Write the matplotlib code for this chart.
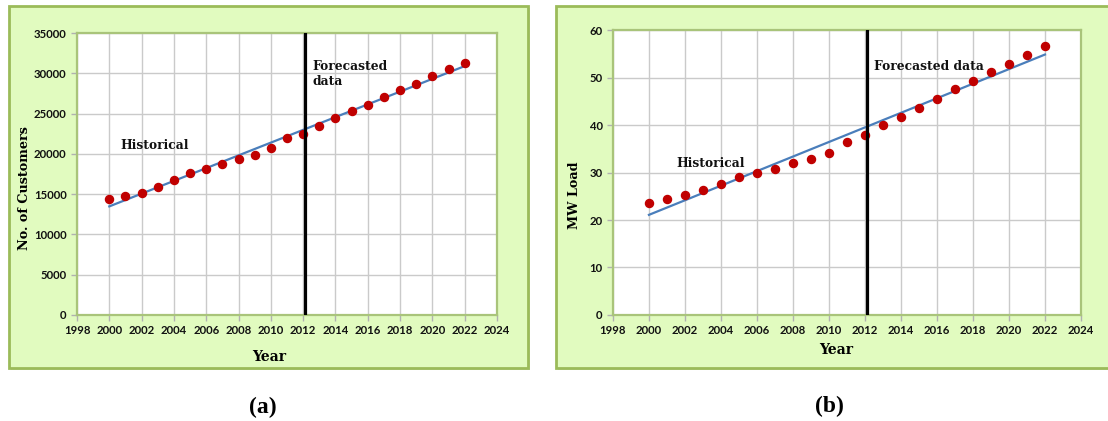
import numpy as np
import matplotlib.pyplot as plt
from matplotlib.patches import Rectangle

years = np.arange(2000, 2023)
customers = [14400, 14800, 15200, 15900, 16700, 17600, 18100, 18700, 19400,
             19900, 20700, 22000, 22500, 23500, 24400, 25300, 26100, 27000,
             27900, 28700, 29700, 30500, 31300]
mw_load = [23.6, 24.5, 25.2, 26.3, 27.6, 29.0, 29.8, 30.8, 32.0, 32.9, 34.2,
           36.4, 37.9, 40.0, 41.7, 43.6, 45.5, 47.5, 49.2, 51.1, 52.9, 54.8, 56.6]
split_year = 2012.1
xticks = np.arange(1998, 2025, 2)

box_fill = '#e1fbbf'
box_edge = '#9bbb59'
dot_red = '#c00000'
trend_blue = '#4a7ebb'
serif = 'DejaVu Serif'
tick_font = 'Lato'

fig = plt.figure(figsize=(11.08, 4.21), dpi=100)

# green chart boxes behind the axes
for x0, w in [(0.0081, 0.4684), (0.5018, 0.52)]:
    fig.patches.append(Rectangle((x0 + 0.002, 0.121), w, 0.86, transform=fig.transFigure,
                                 facecolor='#d8d8d8', edgecolor='none', zorder=-3))
    fig.patches.append(Rectangle((x0, 0.1259), w, 0.8598, transform=fig.transFigure,
                                 facecolor=box_fill, edgecolor=box_edge, lw=2, zorder=-2))

ax1 = fig.add_axes([0.0695, 0.2518, 0.3791, 0.6698])
ax2 = fig.add_axes([0.5532, 0.2518, 0.4224, 0.6769])


def style_axes(ax, ymax, ystep):
    ax.set_facecolor('white')
    ax.set_xlim(1998, 2024)
    ax.set_ylim(0, ymax)
    ax.set_xticks(xticks)
    ax.set_yticks(np.arange(0, ymax + 1, ystep))
    ax.grid(True, color='#cacaca', lw=1.0)
    ax.set_axisbelow(True)
    for s in ax.spines.values():
        s.set_color('#a9c47a')
        s.set_linewidth(1.6)
    ax.tick_params(direction='out', length=4, color='#b0b0b0', width=1, pad=3.5)
    for lab in ax.get_xticklabels() + ax.get_yticklabels():
        lab.set_fontfamily(tick_font)
        lab.set_fontweight('bold')
        lab.set_fontsize(8.2)
        lab.set_color('#111111')


def trend(ax, x, y):
    k, b = np.polyfit(x, y, 1)
    ax.plot(x, k * x + b, color=trend_blue, lw=1.6, zorder=3)
    ax.plot(x, y, 'o', color=dot_red, ms=5.8, mec=dot_red, zorder=4)
    ax.axvline(split_year, color='black', lw=2.3, zorder=5)


# (a) customers
style_axes(ax1, 35000, 5000)
trend(ax1, years, customers)
ax1.set_ylabel('No. of Customers', fontfamily=serif, fontweight='bold', fontsize=9.2)
ax1.set_xlabel('Year', fontfamily=serif, fontweight='bold', fontsize=10)
ax1.yaxis.set_label_coords(-0.124, 0.45)
ax1.xaxis.set_label_coords(0.457, -0.149)
ax1.xaxis.label.set_va('center')
ax1.yaxis.label.set_va('center')
ax1.text(2000.7, 21000, 'Historical', fontfamily=serif, fontweight='bold',
         fontsize=8.8, va='center', color='#111111')
ax1.text(2012.6, 29900, 'Forecasted\ndata', fontfamily=serif, fontweight='bold',
         fontsize=8.8, va='center', color='#111111', linespacing=1.25)

# (b) MW load
style_axes(ax2, 60, 10)
trend(ax2, years, mw_load)
ax2.set_ylabel('MW Load', fontfamily=serif, fontweight='bold', fontsize=9.2)
ax2.set_xlabel('Year', fontfamily=serif, fontweight='bold', fontsize=10)
ax2.yaxis.set_label_coords(-0.083, 0.421)
ax2.xaxis.set_label_coords(0.476, -0.123)
ax2.xaxis.label.set_va('center')
ax2.yaxis.label.set_va('center')
ax2.text(2001.5, 31.9, 'Historical', fontfamily=serif, fontweight='bold',
         fontsize=8.8, va='center', color='#111111')
ax2.text(2012.5, 52.3, 'Forecasted data', fontfamily=serif, fontweight='bold',
         fontsize=8.8, va='center', color='#111111')

fig.text(0.2374, 0.033, '(a)', fontfamily='Liberation Serif', fontweight='bold',
         fontsize=17, ha='center', va='center')
fig.text(0.749, 0.035, '(b)', fontfamily='Liberation Serif', fontweight='bold',
         fontsize=17, ha='center', va='center')

fig.savefig('out.png', dpi=100)
